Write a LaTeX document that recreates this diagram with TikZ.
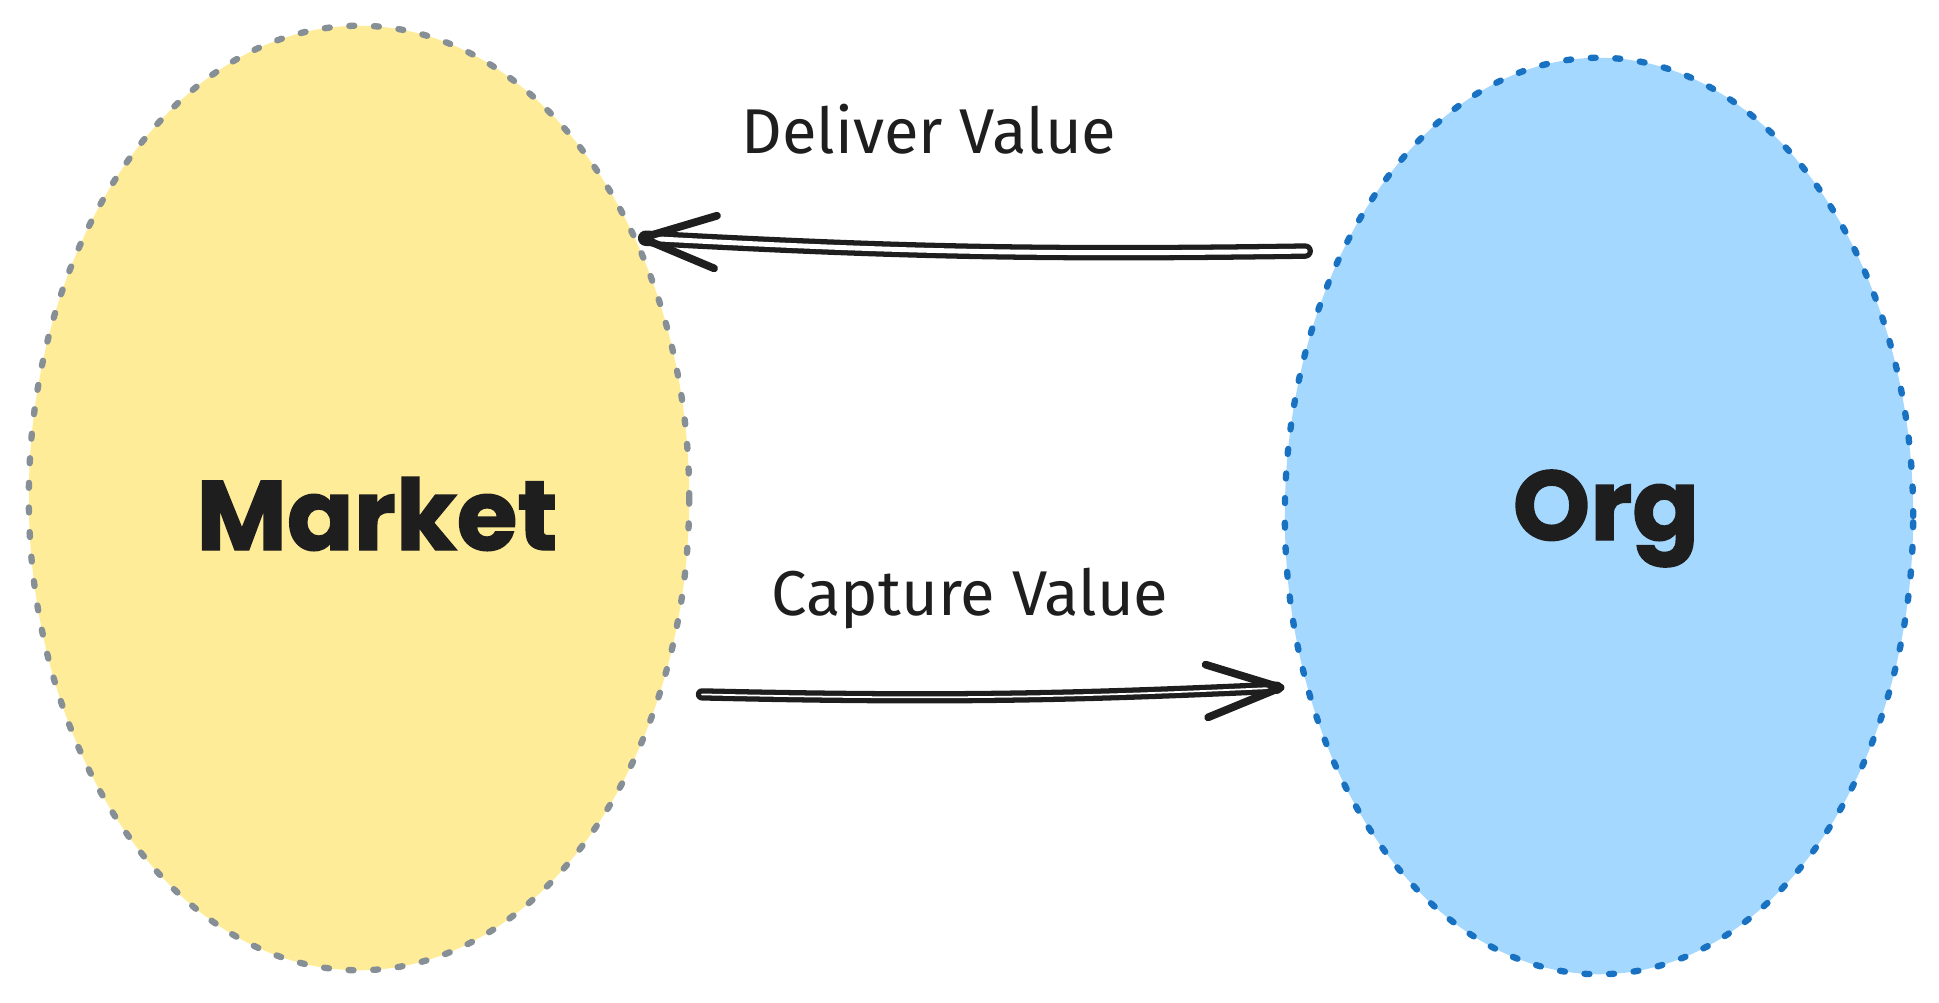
\documentclass[tikz,border=0pt]{standalone}
\usepackage{fontspec}
\setmainfont{Fira Sans}
\newfontfamily\titlefont{Poppins}[BoldFeatures={FakeBold=1.5}]
\usepackage{xcolor}
\usetikzlibrary{arrows.meta,shapes.geometric}
\definecolor{inkdark}{HTML}{1E1E1E}
\definecolor{marketfill}{HTML}{FFEC99}
\definecolor{marketline}{HTML}{868E96}
\definecolor{orgfill}{HTML}{A5D8FF}
\definecolor{orgline}{HTML}{1971C2}

\begin{document}
\begin{tikzpicture}[x=0.01cm,y=-0.01cm,
 blob/.style={ellipse,inner sep=0pt,line width=1.8pt,line cap=round,dash pattern=on 1.4pt off 5.6pt},
 title/.style={anchor=base,inner sep=0pt,text=inkdark,font=\titlefont\bfseries\fontsize{28}{34}\selectfont},
 flowlabel/.style={anchor=base,inner sep=0pt,text=inkdark,font=\fontsize{18}{22}\selectfont},
 flow/.style={draw=inkdark,line width=1.5pt,double=white,double distance=1.4pt,line cap=round,
  -{Straight Barb[length=21pt,width=15pt,round,line width=2.2pt]}}]
\useasboundingbox (0,0) rectangle (1939,1003);
\node[blob,draw=marketline,fill=marketfill,minimum width=6.6cm,minimum height=9.44cm] (market) at (359,498) {};
\node[blob,draw=orgline,fill=orgfill,minimum width=6.28cm,minimum height=9.16cm] (org) at (1599,516) {};
\node[title] (marketname) at (377,550) {Market};
\node[title] (orgname) at (1606,540) {Org};
\node[flowlabel] (deliver) at (929,153) {Deliver Value};
\node[flowlabel] (capture) at (970,615) {Capture Value};
\draw[flow] ([shift={(-24,-22)}]org.138) to[bend left=2] (market.43);
\draw[flow,double distance=0.5pt] ([shift={(34,18)}]market.-30) to[bend right=2] ([shift={(-18,7)}]org.209);
\end{tikzpicture}
\end{document}
